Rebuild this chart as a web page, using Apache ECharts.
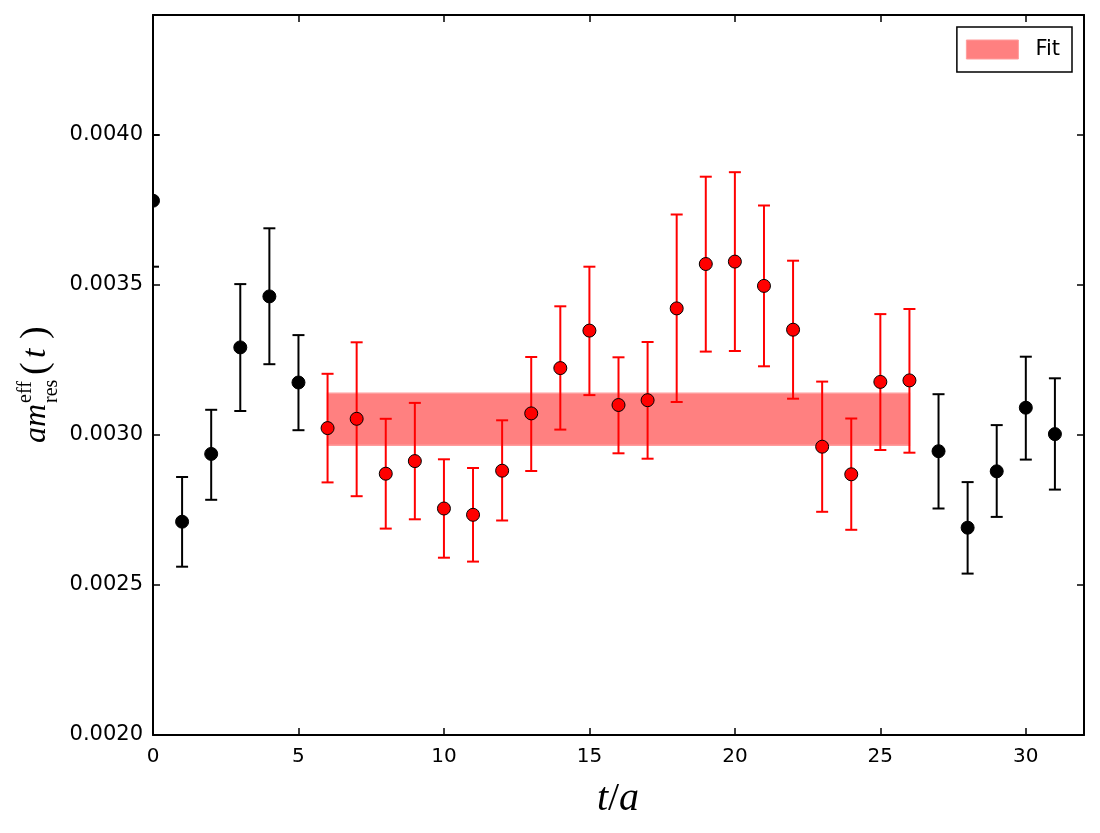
<!DOCTYPE html>
<html>
<head>
<meta charset="utf-8">
<script src="https://cdn.jsdelivr.net/npm/echarts@6/dist/echarts.min.js"></script>
<style>
  html, body { margin: 0; padding: 0; background: #fff; }
  #chart { width: 1100px; height: 833px; }
</style>
</head>
<body>
<div id="chart"></div>
<script>
// effective residual mass per time slice
var times = [0, 1, 2, 3, 4, 5, 6, 7, 8, 9, 10, 11, 12, 13, 14, 15,
  16, 17, 18, 19, 20, 21, 22, 23, 24, 25, 26, 27, 28, 29, 30, 31]
var values = [0.003781, 0.002711, 0.002937, 0.003292, 0.003462, 0.003175, 0.003023, 0.003054,
  0.002871, 0.002913, 0.002755, 0.002734, 0.002881, 0.003072, 0.003223, 0.003348,
  0.003100, 0.003116, 0.003422, 0.003570, 0.003578, 0.003497, 0.003351, 0.002961,
  0.002869, 0.003177, 0.003182, 0.002946, 0.002691, 0.002879, 0.003091, 0.003003]
var upper = [0.004000, 0.002860, 0.003084, 0.003503, 0.003689, 0.003333, 0.003204, 0.003309,
  0.003054, 0.003107, 0.002919, 0.002890, 0.003049, 0.003260, 0.003429, 0.003561,
  0.003259, 0.003310, 0.003735, 0.003861, 0.003876, 0.003765, 0.003581, 0.003178,
  0.003055, 0.003403, 0.003420, 0.003136, 0.002843, 0.003033, 0.003261, 0.003189]
var lower = [0.003561, 0.002561, 0.002784, 0.003080, 0.003236, 0.003016, 0.002842, 0.002796,
  0.002688, 0.002719, 0.002591, 0.002578, 0.002715, 0.002880, 0.003018, 0.003133,
  0.002939, 0.002921, 0.003110, 0.003278, 0.003280, 0.003229, 0.003121, 0.002744,
  0.002684, 0.002950, 0.002941, 0.002755, 0.002538, 0.002727, 0.002918, 0.002818]

// fit window and fit band
var fitStart = 6
var fitEnd = 26
var fitLow = 0.002966
var fitHigh = 0.003139

var xMin = 0, xMax = 32, xStep = 5
var yMin = 0.0020, yMax = 0.0044, yStep = 0.0005

var black = []
var red = []
times.forEach(function (t, i) {
  var row = [t, upper[i], lower[i], values[i]]
  if (t >= fitStart && t <= fitEnd) red.push(row)
  else black.push(row)
})

function errRender(color) {
  return function (params, api) {
    var x = api.value(0)
    var top = api.coord([x, api.value(1)])
    var bot = api.coord([x, api.value(2)])
    var st = { stroke: color, lineWidth: 2 }
    return {
      type: 'group',
      children: [
        { type: 'line', shape: { x1: top[0], y1: top[1], x2: bot[0], y2: bot[1] }, style: st },
        { type: 'line', shape: { x1: top[0] - 6, y1: top[1], x2: top[0] + 6, y2: top[1] }, style: st },
        { type: 'line', shape: { x1: bot[0] - 6, y1: bot[1], x2: bot[0] + 6, y2: bot[1] }, style: st }
      ]
    }
  }
}

function dotRender(color) {
  return function (params, api) {
    var p = api.coord([api.value(0), api.value(3)])
    return {
      type: 'circle',
      shape: { cx: p[0], cy: p[1], r: 6.5 },
      style: { fill: color, stroke: '#000', lineWidth: 1 }
    }
  }
}

function bandRender(params, api) {
  var a = api.coord([api.value(0), api.value(3)])
  var b = api.coord([api.value(1), api.value(2)])
  return {
    type: 'rect',
    shape: { x: a[0], y: a[1], width: b[0] - a[0], height: b[1] - a[1] },
    style: { fill: '#ff8080', stroke: '#ff9c9c', lineWidth: 1.5 }
  }
}

var font = 'DejaVu Sans'
var serif = 'Liberation Serif'

function xAxisCfg(pos, labels) {
  return {
    type: 'value', position: pos, min: xMin, max: xMax, interval: xStep,
    axisLine: { show: true, onZero: false, lineStyle: { color: '#000', width: 2 } },
    axisTick: { show: true, inside: true, length: 7, lineStyle: { color: '#000', width: 1.5 } },
    axisLabel: { show: labels, color: '#000', fontSize: 20, fontFamily: font, margin: 12, showMaxLabel: false },
    splitLine: { show: false }
  }
}

function yAxisCfg(pos, labels) {
  return {
    type: 'value', position: pos, min: yMin, max: yMax, interval: yStep,
    axisLine: { show: true, onZero: false, lineStyle: { color: '#000', width: 2 } },
    axisTick: { show: true, inside: true, length: 7, lineStyle: { color: '#000', width: 1.5 } },
    axisLabel: {
      show: labels, color: '#000', fontSize: 21, fontFamily: font, margin: 10, showMaxLabel: false,
      formatter: function (v) { return v.toFixed(4) }
    },
    splitLine: { show: false }
  }
}

var chart = echarts.init(document.getElementById('chart'))
chart.setOption({
  animation: false,
  backgroundColor: '#fff',
  grid: { left: 153, right: 16, top: 15, bottom: 98 },
  xAxis: [xAxisCfg('bottom', true), xAxisCfg('top', false)],
  yAxis: [yAxisCfg('left', true), yAxisCfg('right', false)],
  legend: {
    right: 28, top: 27,
    data: [{ name: 'Fit', icon: 'rect', itemStyle: { color: '#ff8080', borderColor: '#ff9c9c', borderWidth: 1 } }],
    itemWidth: 52, itemHeight: 19,
    borderColor: '#000', borderWidth: 1.5, borderRadius: 0,
    padding: [12, 12, 12, 9],
    selectedMode: false,
    textStyle: { fontSize: 21, color: '#000', fontFamily: font, padding: [0, 0, 0, 12] }
  },
  graphic: [
    {
      type: 'text', x: 618, y: 799,
      style: {
        text: '{i|t}{n|/}{i|a}',
        align: 'center', verticalAlign: 'middle',
        rich: {
          i: { fontFamily: serif, fontStyle: 'italic', fontSize: 40, fill: '#000' },
          n: { fontFamily: serif, fontSize: 40, fill: '#000' }
        }
      }
    },
    {
      type: 'group', x: 48, y: 443, rotation: Math.PI / 2,
      children: [
        { type: 'text', x: 0, y: -11, style: { text: 'am', font: 'italic 32px "Liberation Serif"', fill: '#000', verticalAlign: 'middle' } },
        { type: 'text', x: 40, y: -22, style: { text: 'eff', font: '20px "Liberation Serif"', fill: '#000', verticalAlign: 'middle' } },
        { type: 'text', x: 40, y: 4, style: { text: 'res', font: '20px "Liberation Serif"', fill: '#000', verticalAlign: 'middle' } },
        { type: 'text', x: 68, y: -12, style: { text: '(', font: '38px "Liberation Serif"', fill: '#000', verticalAlign: 'middle' } },
        { type: 'text', x: 85, y: -12, style: { text: 't', font: 'italic 34px "Liberation Serif"', fill: '#000', verticalAlign: 'middle' } },
        { type: 'text', x: 104, y: -12, style: { text: ')', font: '38px "Liberation Serif"', fill: '#000', verticalAlign: 'middle' } }
      ]
    }
  ],
  series: [
    {
      name: 'Fit', type: 'custom', clip: true, z: 1,
      renderItem: bandRender,
      data: [[fitStart, fitEnd, fitLow, fitHigh]]
    },
    { type: 'custom', clip: true, z: 2, renderItem: errRender('#000'), data: black },
    { type: 'custom', clip: true, z: 2, renderItem: errRender('#ff0000'), data: red },
    { type: 'custom', clip: true, z: 3, renderItem: dotRender('#000'), data: black },
    { type: 'custom', clip: true, z: 3, renderItem: dotRender('#ff0000'), data: red }
  ]
})
</script>
</body>
</html>
